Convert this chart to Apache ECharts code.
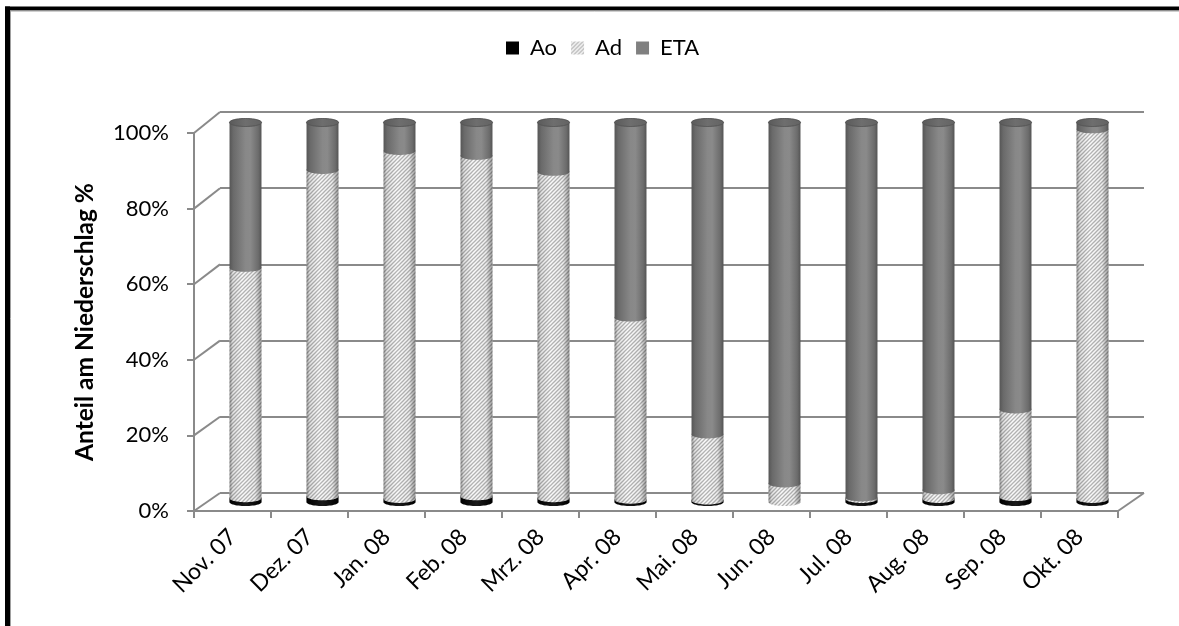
<!DOCTYPE html>
<html>
<head>
<meta charset="utf-8">
<script src="https://cdn.jsdelivr.net/npm/echarts@6/dist/echarts.min.js"></script>
<style>
  html, body { margin: 0; padding: 0; background: #fff; }
  #chart { width: 1179px; height: 626px; }
</style>
</head>
<body>
<div id="chart"></div>
<script>
// Monthly shares of precipitation (%), Nov 2007 – Okt 2008
const categories = ['Nov. 07', 'Dez. 07', 'Jan. 08', 'Feb. 08', 'Mrz. 08', 'Apr. 08',
                    'Mai. 08', 'Jun. 08', 'Jul. 08', 'Aug. 08', 'Sep. 08', 'Okt. 08'];
const aoValues  = [1.0, 1.5, 0.8, 1.5, 1.0, 0.6, 0.4, 0.0, 0.8, 0.8, 1.3, 0.8];
const adValues  = [60.7, 86.0, 91.7, 89.7, 86.0, 48.0, 17.4, 4.9, 0.4, 2.3, 23.1, 97.4];
const etaValues = [38.3, 12.5, 7.5, 8.8, 13.0, 51.4, 82.2, 95.1, 98.8, 96.9, 75.6, 1.8];
const seriesNames = ['Ao', 'Ad', 'ETA'];
const yTicks = [0, 20, 40, 60, 80, 100];

const FONT = 'Lato';
const layers = [aoValues, adValues, etaValues];

// layout of the pseudo-3D box: back wall, front axes, and the bar plane in between
const backGrid  = { left: 220, top: 112, width: 924, height: 381 };
const frontGrid = { left: 194, top: 133, width: 924, height: 378 };
const barGrid   = { left: 207, top: 122.5, width: 924, height: 379.5 };

// diagonal hatch used for the "Ad" share
function makeHatch() {
  const s = 4;
  const c = document.createElement('canvas');
  c.width = s; c.height = s;
  const g = c.getContext('2d');
  g.fillStyle = '#fbfbfb';
  g.fillRect(0, 0, s, s);
  g.strokeStyle = '#b4b4b4';
  g.lineWidth = 1.3;
  g.beginPath();
  g.moveTo(0, s); g.lineTo(s, 0);
  g.moveTo(-1, 1); g.lineTo(1, -1);
  g.moveTo(s - 1, s + 1); g.lineTo(s + 1, s - 1);
  g.stroke();
  return c;
}
const hatch = { image: makeHatch(), repeat: 'repeat' };

function hGrad(stops) {
  return { type: 'linear', x: 0, y: 0, x2: 1, y2: 0,
           colorStops: stops.map(s => ({ offset: s[0], color: s[1] })) };
}

const bodyFill = [
  hGrad([[0, '#000'], [0.5, '#1a1a1a'], [1, '#000']]),
  hatch,
  hGrad([[0, '#565656'], [0.12, '#6a6a6a'], [0.5, '#888888'], [0.65, '#8a8a8a'], [0.9, '#6c6c6c'], [1, '#545454']])
];
const shade = hGrad([[0, 'rgba(0,0,0,0.38)'], [0.1, 'rgba(0,0,0,0.1)'], [0.4, 'rgba(0,0,0,0)'],
                     [0.8, 'rgba(0,0,0,0.05)'], [1, 'rgba(0,0,0,0.38)']]);
const legendColor = ['#000000', hatch, '#808080'];

function stackData(k) {
  return categories.map((_, i) => {
    let base = 0;
    for (let j = 0; j < k; j++) base += layers[j][i];
    return [i, base, base + layers[k][i]];
  });
}

// one stacked cylinder segment per data item
function renderSegment(k) {
  return function (params, api) {
    const i = api.value(0), b = api.value(1), t = api.value(2);
    if (t - b <= 0) return null;
    const pt = api.coord([i, t]);
    const pb = api.coord([i, b]);
    const rx = api.size([1, 0])[0] * 0.415 / 2;
    const ry = 4;
    const cx = pt[0];
    const N = 28;
    const pts = [];
    for (let s = 0; s <= N; s++) {
      const a = Math.PI - Math.PI * s / N;
      pts.push([cx + rx * Math.cos(a), pb[1] + ry * Math.sin(a)]);
    }
    for (let s = 0; s <= N; s++) {
      const a = -Math.PI * s / N;
      pts.push([cx + rx * Math.cos(a), pt[1] + ry * Math.sin(a)]);
    }
    const children = [
      { type: 'polygon', shape: { points: pts }, style: { fill: bodyFill[k] } }
    ];
    if (k !== 2) {
      children.push({ type: 'polygon', shape: { points: pts }, style: { fill: shade } });
    }
    if (t >= 99.99) {
      const cap = [];
      for (let s = 0; s < 2 * N; s++) {
        const a = 2 * Math.PI * s / (2 * N);
        cap.push([cx + rx * Math.cos(a), pt[1] + ry * Math.sin(a)]);
      }
      children.push({
        type: 'polygon', shape: { points: cap },
        style: { fill: hGrad([[0, '#5a5a5a'], [0.5, '#6e6e6e'], [1, '#636363']]), stroke: '#555555', lineWidth: 0.6 }
      });
    }
    return { type: 'group', children };
  };
}

const chart = echarts.init(document.getElementById('chart'), null, { renderer: 'canvas' });

const axisGray = '#8a8a8a';

const option = {
  animation: false,
  backgroundColor: '#ffffff',
  textStyle: { fontFamily: FONT },
  legend: {
    data: seriesNames.map(n => ({ name: n, icon: 'rect' })),
    top: 32, left: 501,
    itemWidth: 13, itemHeight: 13, itemGap: 14,
    textStyle: { fontFamily: FONT, fontSize: 22, color: '#000', padding: [0, 0, 0, 6] },
    selectedMode: false
  },
  grid: [
    Object.assign({}, backGrid),
    Object.assign({}, frontGrid),
    Object.assign({}, barGrid)
  ],
  xAxis: [
    { type: 'category', gridIndex: 0, data: categories, show: false },
    {
      type: 'category', gridIndex: 1, data: categories, boundaryGap: true,
      axisLine: { lineStyle: { color: axisGray, width: 2 } },
      axisTick: { show: true, length: 7, lineStyle: { color: axisGray, width: 2 } },
      axisLabel: { rotate: 45, margin: 22, fontSize: 23, color: '#000', fontFamily: FONT, interval: 0 }
    },
    { type: 'category', gridIndex: 2, data: categories, show: false }
  ],
  yAxis: [
    {
      type: 'value', gridIndex: 0, min: 0, max: 100, interval: 20,
      axisLine: { show: false }, axisTick: { show: false }, axisLabel: { show: false },
      splitLine: { show: true, lineStyle: { color: axisGray, width: 2 } }
    },
    {
      type: 'value', gridIndex: 1, min: 0, max: 100, interval: 20,
      axisLine: { show: true, lineStyle: { color: axisGray, width: 2 } },
      axisTick: { show: true, length: 7, lineStyle: { color: axisGray, width: 2 } },
      splitLine: { show: false },
      axisLabel: { formatter: '{value}%', fontSize: 22, color: '#000', margin: 25, fontFamily: FONT },
      name: 'Anteil am Niederschlag %',
      nameLocation: 'middle', nameGap: 96,
      nameTextStyle: { fontSize: 24.5, fontWeight: 'bold', color: '#000', fontFamily: FONT }
    },
    { type: 'value', gridIndex: 2, min: 0, max: 100, show: false }
  ],
  series: seriesNames.map((name, k) => ({
    name,
    type: 'custom',
    xAxisIndex: 2, yAxisIndex: 2,
    itemStyle: { color: legendColor[k] },
    encode: { x: 0, y: 2 },
    renderItem: renderSegment(k),
    data: stackData(k),
    z: 3
  })),
  graphic: [
    { id: 'frameTop', type: 'line', shape: { x1: 5, y1: 8.5, x2: 1179, y2: 8.5 },
      style: { stroke: '#000', lineWidth: 4 }, z: 100 },
    { id: 'frameLeft', type: 'line', shape: { x1: 7.5, y1: 6.5, x2: 7.5, y2: 626 },
      style: { stroke: '#000', lineWidth: 5 }, z: 100 },
    { id: 'frameTopInner', type: 'line', shape: { x1: 10, y1: 11, x2: 1179, y2: 11 },
      style: { stroke: '#a0a0a0', lineWidth: 1 }, z: 100 },
    { id: 'frameLeftInner', type: 'line', shape: { x1: 10.5, y1: 11, x2: 10.5, y2: 626 },
      style: { stroke: '#a0a0a0', lineWidth: 1 }, z: 100 }
  ]
};

chart.setOption(option);

// depth edges joining the front axes to the back wall
const edges = yTicks.map(v => {
  const yf = chart.convertToPixel({ yAxisIndex: 1 }, v);
  const yb = chart.convertToPixel({ yAxisIndex: 0 }, v);
  return {
    type: 'line', silent: true, z: 1,
    shape: { x1: frontGrid.left, y1: yf, x2: backGrid.left, y2: yb },
    style: { stroke: axisGray, lineWidth: 2 }
  };
});
const yf0 = chart.convertToPixel({ yAxisIndex: 1 }, 0);
const yb0 = chart.convertToPixel({ yAxisIndex: 0 }, 0);
edges.push({
  type: 'line', silent: true, z: 1,
  shape: { x1: frontGrid.left + frontGrid.width, y1: yf0, x2: backGrid.left + backGrid.width, y2: yb0 },
  style: { stroke: axisGray, lineWidth: 2 }
});
chart.setOption({ graphic: option.graphic.concat(edges) });
</script>
</body>
</html>
